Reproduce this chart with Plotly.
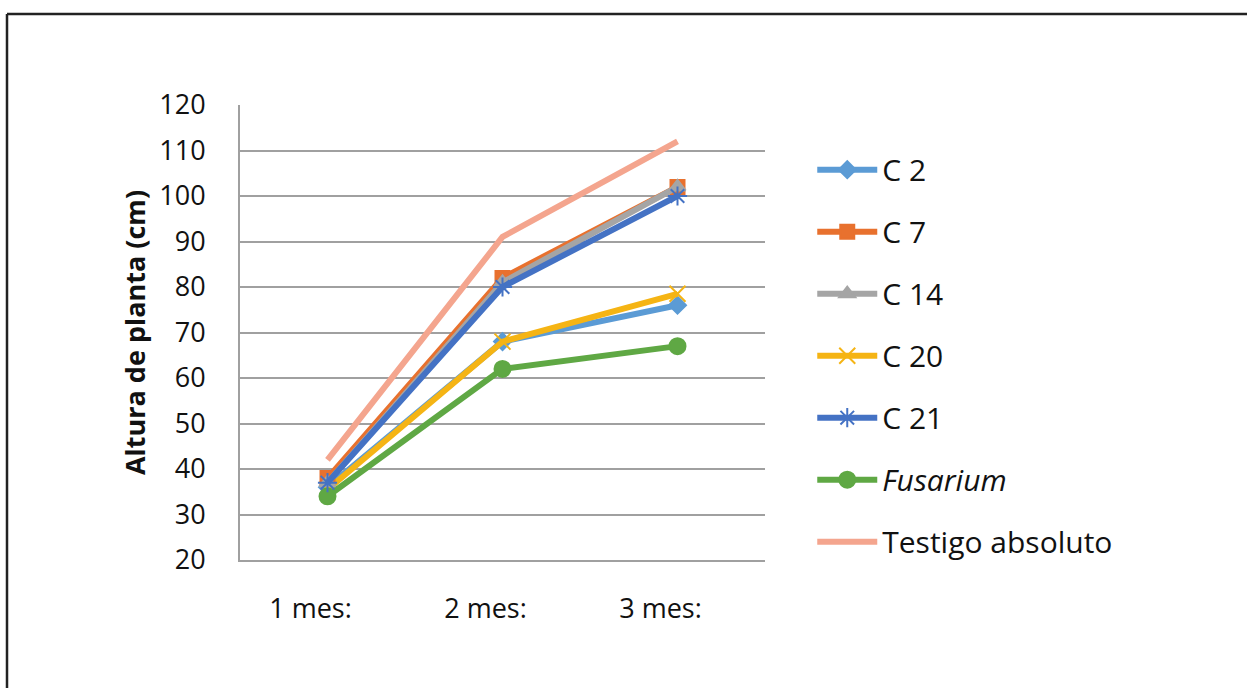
import plotly.graph_objects as go

categories = ["1 mes:", "2 mes:", "3 mes:"]
series_names = ["C 2", "C 7", "C 14", "C 20", "C 21", "<i>Fusarium</i>", "Testigo absoluto"]
c2 = [36, 68, 76]
c7 = [38, 82, 102]
c14 = [37, 81, 102]
c20 = [35.5, 68, 78.5]
c21 = [37, 80, 100]
fusarium = [34, 62, 67]
testigo = [42, 91, 112]
y_ticks = [20, 30, 40, 50, 60, 70, 80, 90, 100, 110, 120]

values = [c2, c7, c14, c20, c21, fusarium, testigo]
colors = ["#5B9BD5", "#E8712E", "#A5A5A5", "#F5B414", "#4472C4", "#5FA844", "#F4A58E"]
symbols = ["diamond", "square", "triangle-up", "x-thin", "asterisk", "circle", None]
msizes = [13, 14, 14, 16, 16, 16, 0]

fig = go.Figure()
draw_order = [6, 0, 3, 5, 1, 2, 4]
for i in draw_order:
    marker = dict(color=colors[i], size=msizes[i],
                  line=dict(color=colors[i], width=2))
    if symbols[i] is not None:
        marker["symbol"] = symbols[i]
        mode = "lines+markers"
    else:
        mode = "lines"
    fig.add_trace(go.Scatter(
        x=categories, y=values[i], name=series_names[i], mode=mode,
        line=dict(color=colors[i], width=6), marker=marker,
        legendgroup=str(i), legendrank=i + 1,
    ))

L, T, W, H = 240, 105, 525, 455
fig.update_layout(
    width=1247, height=688,
    margin=dict(l=L, r=1247 - L - W, t=T, b=688 - T - H),
    paper_bgcolor="white", plot_bgcolor="white",
    font=dict(family="Open Sans, DejaVu Sans, sans-serif", color="#111111", size=26),
    showlegend=True,
    legend=dict(x=1.09, y=0.915, xanchor="left", yanchor="top",
                font=dict(size=30, color="#111111"), tracegroupgap=20,
                itemwidth=60, bgcolor="rgba(0,0,0,0)"),
    xaxis=dict(type="category", showgrid=False, showline=True, linecolor="#A0A0A0",
               linewidth=2, ticks="", ticklabelstandoff=24, ticklabelshift=-17,
               tickfont=dict(size=27, family="Open Sans, sans-serif"),
               range=[-0.5, 2.5]),
    yaxis=dict(range=[20, 120], tickvals=y_ticks, showgrid=True, gridcolor="#A0A0A0",
               gridwidth=1.5, showline=True, linecolor="#A0A0A0", linewidth=2,
               ticks="", ticklabelstandoff=27, zeroline=False,
               tickfont=dict(size=27, family="Open Sans, sans-serif"),
               title=dict(text="<b>Altura de planta (cm)</b>", standoff=6,
                          font=dict(size=27, family="Open Sans, sans-serif"))),
    shapes=[
        dict(type="line", xref="paper", yref="paper",
             x0=(7 - L) / W, x1=(1260 - L) / W,
             y0=1 + (T - 14) / H, y1=1 + (T - 14) / H,
             line=dict(color="#222222", width=2.5)),
        dict(type="line", xref="paper", yref="paper",
             x0=(7 - L) / W, x1=(7 - L) / W,
             y0=1 + (T - 14) / H, y1=-(700 - T - H) / H,
             line=dict(color="#222222", width=2.5)),
    ],
)

fig.write_html("out.html", config={"displayModeBar": False},
               post_script="document.body.style.margin='0px';")
